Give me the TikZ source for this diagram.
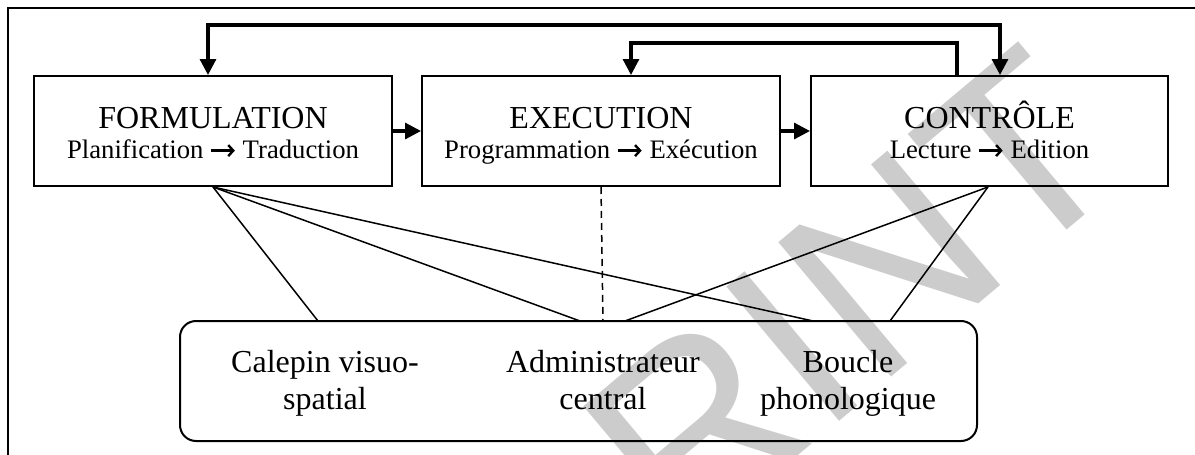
\documentclass[tikz,border=0pt]{standalone}
\usepackage{fontspec}
\setmainfont{Liberation Serif}
\newfontfamily\wmfont{Liberation Sans}
\usetikzlibrary{arrows.meta}
\definecolor{wmgray}{RGB}{204,204,204}
\newcommand\warr{\tikz[baseline=0pt,x=1pt,y=1pt]\draw[line width=2.4pt,line cap=butt,-{Straight Barb[length=5pt,width=11pt,line width=2.4pt]}] (1.5,7.4) -- (25,7.4);}
\begin{document}
\begin{tikzpicture}[x=1pt,y=-1pt,
  procbox/.style={draw,line width=2pt,minimum width=358pt,minimum height=110pt,inner sep=0pt},
  titletext/.style={font=\fontsize{32}{36}\selectfont,anchor=base,inner sep=0pt},
  subtext/.style={font=\fontsize{26.7}{30}\selectfont,anchor=base,inner sep=0pt},
  memtext/.style={font=\fontsize{32}{36}\selectfont,anchor=base,inner sep=0pt},
  flow/.style={line width=3.2pt,-{Triangle[length=16pt,width=16pt]}},
  bothflow/.style={line width=3.2pt,{Triangle[length=16pt,width=16pt]}-{Triangle[length=16pt,width=16pt]}},
  link/.style={line width=1.5pt},
  dashlink/.style={line width=1.5pt,dash pattern=on 7pt off 5pt}]
\useasboundingbox (0,0) rectangle (1195,455);
% watermark
\node[text=wmgray,font=\wmfont\fontsize{255}{255}\selectfont,rotate=40,anchor=base west,inner sep=0pt] (wm) at (680,555) {RINT};
% outer frame (cropped)
\draw[line width=1.5pt] (8,460) -- (8,8) -- (1200,8);
% boxes
\node[procbox] (F) at (213,131) {};
\node[procbox] (E) at (601,131) {};
\node[procbox,minimum width=357pt] (C) at (989.5,131) {};
\node[titletext] (Ft) at (213,128) {FORMULATION};
\node[subtext] (Fs) at (213,158) {Planification \warr{} Traduction};
\node[titletext] (Et) at (601,128) {EXECUTION};
\node[subtext] (Es) at (601,158) {Programmation \warr{} Exécution};
\node[titletext] (Ct) at (989.5,128) {CONTRÔLE};
\node[subtext] (Cs) at (989.5,158) {Lecture \warr{} Edition};
% memory box
\node[draw,line width=2pt,rounded corners=16pt,minimum width=797pt,minimum height=120pt,inner sep=0pt] (W) at (578.5,381) {};
\node[memtext] (m1a) at (325,372) {Calepin visuo-};
\node[memtext] (m1b) at (325,409) {spatial};
\node[memtext] (m2a) at (603,372) {Administrateur};
\node[memtext] (m2b) at (603,409) {central};
\node[memtext] (m3a) at (848,372) {Boucle};
\node[memtext] (m3b) at (848,409) {phonologique};
% attachment points on memory box top
\coordinate (wv) at (318,321);
\coordinate (wa1) at (580,321);
\coordinate (wa2) at (603,321);
\coordinate (wa3) at (625,321);
\coordinate (wp1) at (813,321);
\coordinate (wp2) at (890,321);
% arrows
\draw[flow] (F.east) -- (E.west);
\draw[flow] (E.east) -- (C.west);
\draw[bothflow] ([xshift=-5pt]F.north) -- ++(0,-50) -| ([xshift=10.5pt]C.north);
\draw[flow] ([xshift=-32.5pt]C.north) -- ++(0,-32) -| ([xshift=30pt]E.north);
% links
\draw[link] (F.south) -- (wv);
\draw[link] (F.south) -- (wa1);
\draw[link] (F.south) -- (wp1);
\draw[link] ([xshift=-1.5pt]C.south) -- (wa3);
\draw[link] ([xshift=-1.5pt]C.south) -- (wp2);
\draw[dashlink] (E.south) -- (wa2);
\end{tikzpicture}
\end{document}
